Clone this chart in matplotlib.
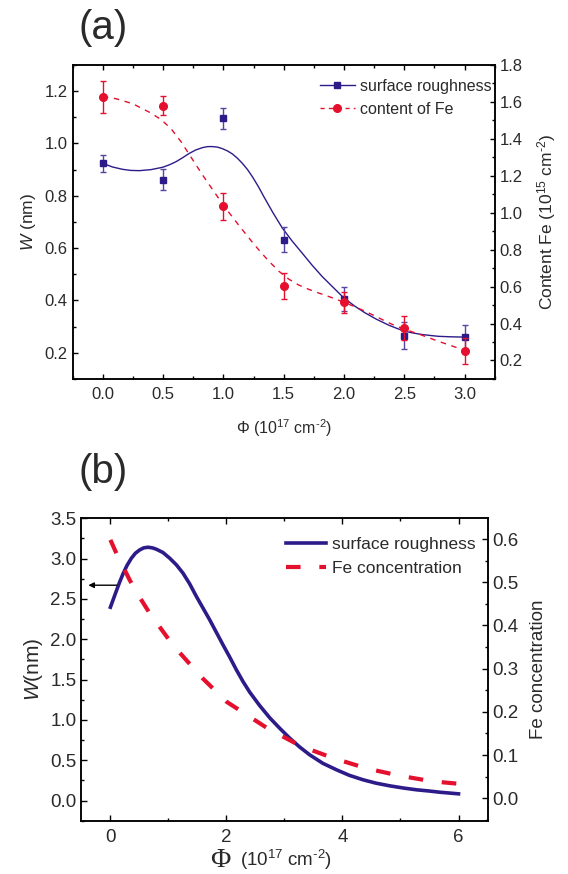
import matplotlib
matplotlib.use("Agg")
import matplotlib.pyplot as plt
from matplotlib.lines import Line2D
from matplotlib.ticker import MultipleLocator

# ---- panel (a): measured points ----
phi_pts = [0.0, 0.5, 1.0, 1.5, 2.0, 2.5, 3.0]
rough_w = [0.924, 0.861, 1.096, 0.632, 0.406, 0.266, 0.260]
rough_err = [0.033, 0.040, 0.041, 0.048, 0.047, 0.051, 0.048]
fe_content = [1.627, 1.580, 1.034, 0.604, 0.514, 0.376, 0.252]
fe_err = [0.085, 0.053, 0.073, 0.072, 0.056, 0.065, 0.070]

# panel (a): fitted curves
rough_fit_phi = [0.0, 0.08, 0.165, 0.23, 0.303, 0.40, 0.496, 0.55, 0.606,
                 0.66, 0.717, 0.77, 0.826, 0.87, 0.909, 0.95, 0.992, 1.035,
                 1.074, 1.115, 1.157, 1.20, 1.240, 1.29, 1.336, 1.41, 1.488,
                 1.57, 1.653, 1.735, 1.818, 1.91, 1.998, 2.09, 2.177, 2.27,
                 2.369, 2.44, 2.507, 2.58, 2.645, 2.72, 2.783, 2.89, 3.0]
rough_fit_w = [0.924, 0.910, 0.901, 0.897, 0.896, 0.900, 0.909, 0.918, 0.930,
               0.945, 0.962, 0.975, 0.984, 0.988, 0.988, 0.986, 0.980, 0.971,
               0.960, 0.944, 0.924, 0.900, 0.873, 0.835, 0.796, 0.736, 0.677,
               0.627, 0.581, 0.535, 0.492, 0.450, 0.410, 0.378, 0.352, 0.328,
               0.306, 0.293, 0.282, 0.275, 0.270, 0.266, 0.263, 0.261, 0.260]
fe_fit_phi = [0.0, 0.110, 0.248, 0.386, 0.482, 0.565, 0.648, 0.730, 0.826,
              0.923, 1.020, 1.130, 1.240, 1.31, 1.378, 1.46, 1.543, 1.62,
              1.708, 1.80, 1.901, 2.0, 2.094, 2.18, 2.260, 2.34, 2.425, 2.52,
              2.617, 2.70, 2.783, 2.89, 3.0]
fe_fit_c = [1.629, 1.617, 1.590, 1.544, 1.505, 1.455, 1.385, 1.302, 1.205,
            1.113, 1.023, 0.930, 0.840, 0.786, 0.737, 0.683, 0.640, 0.610,
            0.585, 0.563, 0.540, 0.515, 0.490, 0.465, 0.440, 0.414, 0.388,
            0.365, 0.344, 0.324, 0.304, 0.280, 0.255]

# ---- panel (b): model curves ----
rough_b_phi = [0.0, 0.103, 0.160, 0.217, 0.286, 0.362, 0.431, 0.505, 0.574,
               0.648, 0.724, 0.793, 0.907, 1.022, 1.138, 1.252, 1.367, 1.483,
               1.597, 1.712, 1.828, 1.941, 2.057, 2.172, 2.286, 2.400, 2.57,
               2.747, 2.92, 3.091, 3.26, 3.436, 3.66, 3.897, 4.12, 4.355,
               4.58, 4.816, 5.05, 5.276, 5.48, 5.678, 6.0]
rough_b_w = [2.397, 2.600, 2.710, 2.810, 2.915, 3.005, 3.067, 3.108, 3.133,
             3.141, 3.133, 3.116, 3.075, 3.005, 2.922, 2.819, 2.686, 2.529,
             2.385, 2.240, 2.083, 1.930, 1.778, 1.620, 1.475, 1.345, 1.180,
             1.025, 0.895, 0.773, 0.665, 0.566, 0.462, 0.381, 0.312, 0.257,
             0.215, 0.182, 0.155, 0.133, 0.119, 0.103, 0.083]
fe_b_phi = [0.0, 0.103, 0.333, 0.50, 0.678, 1.080, 1.586, 2.0, 2.717, 3.292,
            3.848, 4.417, 4.986, 5.555, 6.0]
fe_b_c = [0.598, 0.567, 0.505, 0.466, 0.428, 0.354, 0.278, 0.2235, 0.161,
          0.120, 0.0925, 0.069, 0.052, 0.039, 0.0335]

plt.rcParams["font.family"] = "Liberation Sans"
plt.rcParams["mathtext.fontset"] = "custom"
plt.rcParams["mathtext.rm"] = "Liberation Sans"
plt.rcParams["mathtext.it"] = "Liberation Sans:italic"
plt.rcParams["mathtext.default"] = "regular"

NAVY = "#2d1b8a"
NAVY_ERR = "#5646a4"
RED = "#e4102e"
TXT = "#2a2a2a"
CM2 = "cm$^{\u2010 2}$"

fig = plt.figure(figsize=(5.68, 8.74), dpi=100)


def style_axes(ax, axr, size, major_len, minor_len):
    for a in (ax, axr):
        for s in a.spines.values():
            s.set_linewidth(1.1)
    ax.tick_params(which="both", direction="in", top=True, right=False,
                   labelsize=size, labelcolor=TXT, width=1)
    ax.tick_params(which="major", length=major_len)
    ax.tick_params(which="minor", length=minor_len)
    ax.tick_params(axis="x", pad=6)
    axr.tick_params(which="both", direction="in", labelsize=size,
                    labelcolor=TXT, width=1)
    axr.tick_params(which="major", length=major_len)
    axr.tick_params(which="minor", length=minor_len)


# ######## panel (a) #########
ax = fig.add_axes([0.128, 0.5664, 0.743, 0.3593])
axr = ax.twinx()

ax.plot(rough_fit_phi, rough_fit_w, color=NAVY, lw=1.0)
ax.errorbar(phi_pts, rough_w, yerr=rough_err, fmt="s", color=NAVY,
            ecolor=NAVY_ERR, ms=5, capsize=2.5, elinewidth=1, capthick=1)
axr.plot(fe_fit_phi, fe_fit_c, color=RED, lw=1.0, dashes=(4, 4))
axr.errorbar(phi_pts, fe_content, yerr=fe_err, fmt="o", color=RED,
             ecolor=RED, ms=5.5, capsize=2.5, elinewidth=1, capthick=1)

ax.set_xlim(-0.25, 3.25)
ax.set_ylim(0.1, 1.3)
axr.set_ylim(0.1, 1.8)
ax.xaxis.set_major_locator(MultipleLocator(0.5))
ax.xaxis.set_minor_locator(MultipleLocator(0.25))
ax.yaxis.set_major_locator(MultipleLocator(0.2))
ax.yaxis.set_minor_locator(MultipleLocator(0.1))
axr.yaxis.set_major_locator(MultipleLocator(0.2))
axr.yaxis.set_minor_locator(MultipleLocator(0.1))
style_axes(ax, axr, 12, 3.5, 2)

ax.set_xlabel("Φ (10$^{17}$ " + CM2 + ")", fontsize=11.5, color=TXT,
              labelpad=11)
ax.set_ylabel("$\\mathit{W}$ (nm)", fontsize=12.5, color=TXT, labelpad=5)
axr.set_ylabel("Content Fe (10$^{15}$ " + CM2 + ")", fontsize=12.5,
               color=TXT, labelpad=9)

h1 = Line2D([], [], color=NAVY, lw=1, marker="s", ms=5)
h2 = Line2D([], [], color=RED, lw=1, dashes=(3, 3), marker="o", ms=5.5)
leg = axr.legend([h1, h2], ["surface roughness", "content of Fe"],
                 loc="upper left", bbox_to_anchor=(0.585, 0.955),
                 frameon=False, fontsize=11.5, handlelength=2.2,
                 handletextpad=0.3, labelspacing=0.5, borderaxespad=0,
                 borderpad=0)
for t in leg.get_texts():
    t.set_color(TXT)

fig.text(0.181, 0.9685, "(a)", fontsize=29, ha="center", va="center",
         color=TXT)

# ######## panel (b) #########
bx = fig.add_axes([0.1433, 0.061, 0.715, 0.346])
bxr = bx.twinx()

l1, = bx.plot(rough_b_phi, rough_b_w, color=NAVY, lw=2.6,
              solid_joinstyle="round", label="surface roughness")
l2, = bxr.plot(fe_b_phi, fe_b_c, color=RED, lw=3, dashes=(3.5, 4.5),
               label="Fe concentration")

bx.set_xlim(-0.5, 6.5)
bx.set_ylim(-0.25, 3.5)
bxr.set_ylim(-0.052, 0.648)
bx.xaxis.set_major_locator(MultipleLocator(2))
bx.xaxis.set_minor_locator(MultipleLocator(1))
bx.yaxis.set_major_locator(MultipleLocator(0.5))
bx.yaxis.set_minor_locator(MultipleLocator(0.25))
bxr.yaxis.set_major_locator(MultipleLocator(0.1))
bxr.yaxis.set_minor_locator(MultipleLocator(0.05))
style_axes(bx, bxr, 13.5, 4.5, 2.5)

bx.set_ylabel("$\\mathit{W}$(nm)", fontsize=15, color=TXT, labelpad=4)
bxr.set_ylabel("Fe concentration", fontsize=13.5, color=TXT, labelpad=8)

bx.annotate("", xy=(-0.38, 2.67), xytext=(0.11, 2.67),
            arrowprops=dict(arrowstyle="-|>", color="black", lw=1,
                            mutation_scale=8, shrinkA=0, shrinkB=0))

leg = bxr.legend([l1, l2], ["surface roughness", "Fe concentration"],
                 loc="upper left", bbox_to_anchor=(0.503, 0.938),
                 frameon=False, fontsize=12.5, handlelength=2.3,
                 handletextpad=0.35, labelspacing=0.5, borderaxespad=0,
                 borderpad=0)
for t in leg.get_texts():
    t.set_color(TXT)

fig.text(0.388, 0.016, "Φ", fontsize=20, family="Liberation Serif",
         ha="center", va="center", color=TXT)
fig.text(0.503, 0.016, "(10$^{17}$ " + CM2 + ")", fontsize=13.5,
         ha="center", va="center", color=TXT)
fig.text(0.181, 0.4594, "(b)", fontsize=29, ha="center", va="center",
         color=TXT)

fig.savefig("out.png", dpi=100)
